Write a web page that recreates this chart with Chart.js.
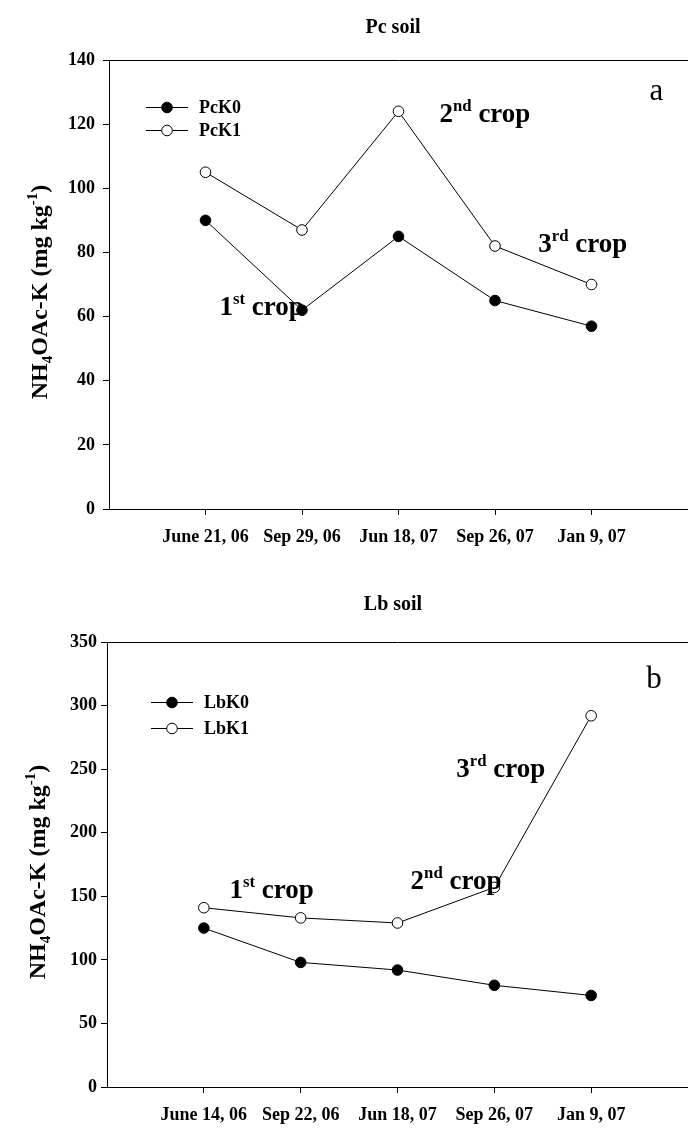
<!DOCTYPE html>
<html>
<head>
<meta charset="utf-8">
<script src="https://cdn.jsdelivr.net/npm/chart.js@4.4.1/dist/chart.umd.min.js"></script>
<style>
  html, body { margin: 0; padding: 0; background: #fff; overflow: hidden; width: 688px; height: 1131px; }
  #wrap { position: relative; width: 688px; height: 1131px; overflow: hidden; }
  canvas { position: absolute; left: 0; }
</style>
</head>
<body>
<div id="wrap">
  <canvas id="pc" width="700" height="575" style="top:0"></canvas>
  <canvas id="lb" width="700" height="556" style="top:575px"></canvas>
</div>
<script>
// Sampling dates (category axis labels)
const pcDates = ['June 21, 06', 'Sep 29, 06', 'Jun 18, 07', 'Sep 26, 07', 'Jan 9, 07'];
const lbDates = ['June 14, 06', 'Sep 22, 06', 'Jun 18, 07', 'Sep 26, 07', 'Jan 9, 07'];

// NH4OAc-extractable K (mg/kg)
const pcK0 = [90, 62, 85, 65, 57];
const pcK1 = [105, 87, 124, 82, 70];
const lbK0 = [125, 98, 92, 80, 72];
const lbK1 = [141, 133, 129, 157, 292];

// Y axis tick values
const pcTicks = [0, 20, 40, 60, 80, 100, 120, 140];
const lbTicks = [0, 50, 100, 150, 200, 250, 300, 350];

const SERIF = '"Liberation Serif", "Times New Roman", serif';

// Draw text runs with optional superscript (1) / subscript (-1) pieces
function richWidth(ctx, parts, size, weight) {
  let w = 0;
  for (const [t, k] of parts) {
    ctx.font = `${weight} ${k ? size * 0.62 : size}px ${SERIF}`;
    w += ctx.measureText(t).width;
  }
  return w;
}
function drawRich(ctx, parts, x, y, size, weight) {
  let cx = x;
  for (const [t, k] of parts) {
    const s = k ? size * 0.62 : size;
    ctx.font = `${weight} ${s}px ${SERIF}`;
    const dy = k === 1 ? -size * 0.40 : (k === -1 ? size * 0.22 : 0);
    ctx.fillText(t, cx, y + dy);
    cx += ctx.measureText(t).width;
  }
}

const yTitleParts = [['NH', 0], ['4', -1], ['OAc-K (mg kg', 0], ['-1', 1], [')', 0]];

const decor = {
  id: 'decor',
  afterDraw(chart, args, o) {
    const ctx = chart.ctx;
    const a = chart.chartArea;
    const xs = chart.scales.x, ys = chart.scales.y;
    ctx.save();
    ctx.fillStyle = '#000';
    ctx.strokeStyle = '#000';
    ctx.textBaseline = 'alphabetic';

    // top frame line
    ctx.lineWidth = 1;
    ctx.beginPath();
    const ty = Math.round(a.top) + 0.5;
    ctx.moveTo(a.left, ty);
    ctx.lineTo(a.right, ty);
    ctx.stroke();

    // panel title
    ctx.font = `bold ${o.titleSize}px ${SERIF}`;
    ctx.textAlign = 'center';
    ctx.fillText(o.title, o.titleX, o.titleY);

    // rotated y axis title
    ctx.textAlign = 'left';
    const w = richWidth(ctx, yTitleParts, o.yTitleSize, 'bold');
    ctx.save();
    ctx.translate(o.yTitleX, o.yTitleY);
    ctx.rotate(-Math.PI / 2);
    drawRich(ctx, yTitleParts, -w / 2, 0, o.yTitleSize, 'bold');
    ctx.restore();

    // legend
    chart.data.datasets.forEach((ds, i) => {
      const y = o.legend.rows[i];
      ctx.lineWidth = 1;
      ctx.beginPath();
      ctx.moveTo(o.legend.x1, y + 0.5);
      ctx.lineTo(o.legend.x2, y + 0.5);
      ctx.stroke();
      ctx.beginPath();
      ctx.arc((o.legend.x1 + o.legend.x2) / 2, y + 0.5, ds.pointRadius, 0, Math.PI * 2);
      ctx.fillStyle = ds.pointBackgroundColor;
      ctx.fill();
      ctx.stroke();
      ctx.fillStyle = '#000';
      ctx.font = `bold ${o.legend.size}px ${SERIF}`;
      ctx.textBaseline = 'middle';
      ctx.fillText(ds.label, o.legend.textX, y + 1);
      ctx.textBaseline = 'alphabetic';
    });

    // crop notes, anchored in data units (left edge, baseline)
    o.notes.forEach(n => {
      drawRich(ctx, [[n.num, 0], [n.sup, 1], [' crop', 0]],
        xs.getPixelForValue(n.x), ys.getPixelForValue(n.y), o.noteSize, 'bold');
    });

    // panel letter
    ctx.font = `normal ${o.letterSize}px ${SERIF}`;
    ctx.fillText(o.letter, xs.getPixelForValue(o.letterX), ys.getPixelForValue(o.letterY));
    ctx.restore();
  }
};

function makeChart(id, cats, k0, k1, names, ticks, lay, deco) {
  const pts = arr => arr.map((v, i) => ({ x: i + 1, y: v }));
  const tickFont = { family: SERIF, size: 18, weight: 'bold' };
  return new Chart(document.getElementById(id), {
    type: 'line',
    data: {
      datasets: [
        { label: names[0], data: pts(k0), borderColor: '#000', borderWidth: 1,
          pointRadius: 5.3, pointBackgroundColor: '#000', pointBorderColor: '#000', pointBorderWidth: 1 },
        { label: names[1], data: pts(k1), borderColor: '#000', borderWidth: 1,
          pointRadius: 5.3, pointBackgroundColor: '#fff', pointBorderColor: '#000', pointBorderWidth: 1 }
      ]
    },
    options: {
      responsive: false,
      animation: false,
      devicePixelRatio: 1,
      layout: { padding: lay.padding },
      plugins: { legend: { display: false }, tooltip: { enabled: false }, decor: deco },
      scales: {
        x: {
          type: 'linear', min: 0, max: cats.length + 1,
          afterFit: s => { s.height = 40; },
          grid: {
            drawOnChartArea: false, tickLength: 6, lineWidth: 1,
            color: c => (c.tick && c.tick.value >= 1 && c.tick.value <= cats.length) ? '#000' : 'rgba(0,0,0,0)'
          },
          border: { color: '#000', width: 1 },
          ticks: {
            stepSize: 1, autoSkip: false, maxRotation: 0, padding: lay.xPad, color: '#000', font: tickFont,
            callback: v => cats[v - 1] ?? ''
          }
        },
        y: {
          min: ticks[0], max: ticks[ticks.length - 1],
          afterFit: s => { s.width = lay.yWidth; },
          grid: { drawOnChartArea: false, tickLength: 6, color: '#000', lineWidth: 1 },
          border: { color: '#000', width: 1 },
          ticks: { stepSize: ticks[1] - ticks[0], padding: lay.yPad, color: '#000', font: tickFont }
        }
      }
    },
    plugins: [decor]
  });
}

makeChart('pc', pcDates, pcK0, pcK1, ['PcK0', 'PcK1'], pcTicks,
  { padding: { top: 60, left: 0, right: 4, bottom: 26 }, yWidth: 109, xPad: 12, yPad: 8 },
  {
    title: 'Pc soil', titleX: 393, titleY: 33, titleSize: 20,
    yTitleX: 47, yTitleY: 292, yTitleSize: 24,
    legend: { x1: 146, x2: 188, textX: 199, rows: [107, 130], size: 18 },
    noteSize: 27,
    notes: [
      { num: '1', sup: 'st', x: 1.145, y: 60.5 },
      { num: '2', sup: 'nd', x: 3.425, y: 120.8 },
      { num: '3', sup: 'rd', x: 4.448, y: 80.2 }
    ],
    letter: 'a', letterX: 5.6, letterY: 127.5, letterSize: 31
  });

makeChart('lb', lbDates, lbK0, lbK1, ['LbK0', 'LbK1'], lbTicks,
  { padding: { top: 67, left: 0, right: 9, bottom: 4 }, yWidth: 107, xPad: 12, yPad: 4 },
  {
    title: 'Lb soil', titleX: 393, titleY: 35, titleSize: 20,
    yTitleX: 45, yTitleY: 297, yTitleSize: 24,
    legend: { x1: 151, x2: 193, textX: 204, rows: [127, 153], size: 18 },
    noteSize: 27,
    notes: [
      { num: '1', sup: 'st', x: 1.264, y: 148.7 },
      { num: '2', sup: 'nd', x: 3.135, y: 155.7 },
      { num: '3', sup: 'rd', x: 3.607, y: 243.8 }
    ],
    letter: 'b', letterX: 5.57, letterY: 313.8, letterSize: 31
  });
</script>
</body>
</html>
